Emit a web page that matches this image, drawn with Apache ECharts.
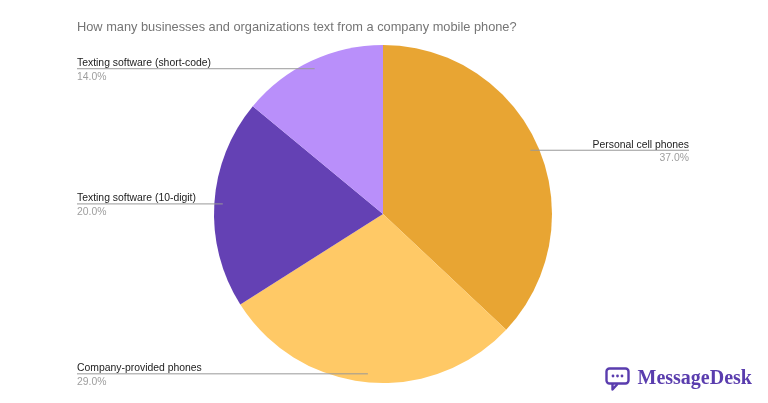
<!DOCTYPE html>
<html>
<head>
<meta charset="utf-8">
<script src="https://cdn.jsdelivr.net/npm/echarts@6/dist/echarts.min.js"></script>
<style>
html,body{margin:0;padding:0;background:#ffffff;}
#chart{width:768px;height:403px;}
</style>
</head>
<body>
<div id="chart"></div>
<script>
var titleText = 'How many businesses and organizations text from a company mobile phone?';
var categories = ['Personal cell phones', 'Company-provided phones', 'Texting software (10-digit)', 'Texting software (short-code)'];
var values = [37.0, 29.0, 20.0, 14.0];
var colors = ['#E8A533', '#FFC966', '#6441B4', '#B98FFA'];

var CX = 383, CY = 214, R = 169;
var LEFT_EDGE = 77, RIGHT_EDGE = 689;
var total = values.reduce(function (a, b) { return a + b; }, 0);
var mids = [];
(function () {
  var acc = 0;
  for (var i = 0; i < values.length; i++) {
    mids.push((acc + values[i] / 2) / total * 360);
    acc += values[i];
  }
})();

var chart = echarts.init(document.getElementById('chart'), null, {renderer: 'canvas'});
var FONT = 'Liberation Sans, Arial, sans-serif';
var option = {
  backgroundColor: '#ffffff',
  animation: false,
  title: {
    text: titleText,
    left: 72,
    top: 16,
    textStyle: {fontFamily: FONT, fontSize: 12.8, fontWeight: 'normal', color: '#757575'}
  },
  series: [{
    type: 'pie',
    z: 2,
    center: [CX, CY],
    radius: R,
    startAngle: 90,
    clockwise: true,
    itemStyle: {borderWidth: 0},
    emphasis: {disabled: true},
    label: {show: false},
    labelLine: {show: false},
    data: categories.map(function (c, i) {
      return {name: c, value: values[i], itemStyle: {color: colors[i]}};
    })
  }, {
    type: 'pie',
    z: 3,
    silent: true,
    center: [CX, CY],
    radius: R,
    startAngle: 90,
    clockwise: true,
    avoidLabelOverlap: false,
    itemStyle: {color: 'rgba(0,0,0,0)', borderWidth: 0},
    emphasis: {disabled: true},
    data: categories.map(function (c, i) {
      return {name: c, value: values[i]};
    }),
    label: {
      show: true,
      position: 'outside',
      formatter: function (p) { return '{n|' + p.name + '}\n{v|' + p.value.toFixed(1) + '%}'; },
      rich: {
        n: {fontFamily: FONT, fontSize: 10.4, color: '#222222', lineHeight: 14, padding: [0, 0, 1, 0]},
        v: {fontFamily: FONT, fontSize: 10.4, color: '#9e9e9e', lineHeight: 12}
      }
    },
    labelLine: {show: true, lineStyle: {color: '#999999', width: 1}, smooth: false},
    labelLayout: function (params) {
      var i = params.dataIndex;
      var a = mids[i] * Math.PI / 180;
      var px = CX + Math.sin(a) * R * 0.95;
      var py = CY - Math.cos(a) * R * 0.95;
      var right = mids[i] < 180;
      var ex = right ? RIGHT_EDGE : LEFT_EDGE;
      return {
        x: ex,
        y: py + 1,
        align: right ? 'right' : 'left',
        verticalAlign: 'middle',
        labelLinePoints: [[px, py], [px, py], [ex, py]]
      };
    }
  }],
  graphic: [{
    type: 'group',
    left: 604,
    top: 366,
    children: [
      {type: 'rect', shape: {x: 2, y: 1, width: 22, height: 15, r: 3},
        style: {fill: 'none', stroke: '#5A3DAE', lineWidth: 2.4}},
      {type: 'polyline', shape: {points: [[8, 16], [8, 22], [13, 16.5]]},
        style: {fill: 'none', stroke: '#5A3DAE', lineWidth: 2.4, lineJoin: 'round'}},
      {type: 'circle', shape: {cx: 8.5, cy: 8.5, r: 1.4}, style: {fill: '#5A3DAE'}},
      {type: 'circle', shape: {cx: 13, cy: 8.5, r: 1.4}, style: {fill: '#5A3DAE'}},
      {type: 'circle', shape: {cx: 17.5, cy: 8.5, r: 1.4}, style: {fill: '#5A3DAE'}},
      {type: 'text', x: 33, y: 11, style: {text: 'MessageDesk', font: 'bold 20px "Liberation Serif", serif', fill: '#5A3DAE', verticalAlign: 'middle'}}
    ]
  }]
};
chart.setOption(option);
</script>
</body>
</html>
